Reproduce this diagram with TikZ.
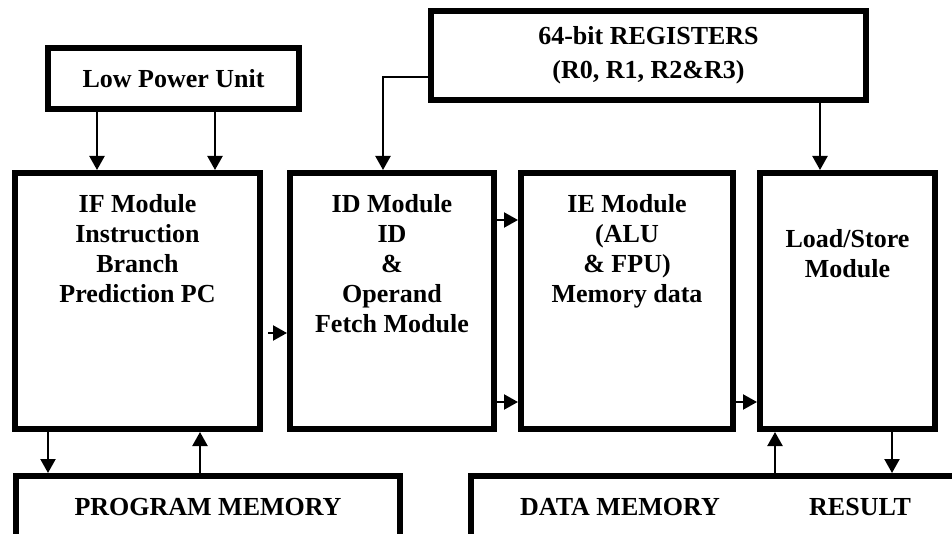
\documentclass[tikz,border=0pt]{standalone}
\usepackage{fontspec}
\setmainfont{Liberation Serif}
\usetikzlibrary{arrows.meta,positioning}
\tikzset{
  blk/.style={draw,line width=6pt,inner sep=0pt,align=center,
    font=\bfseries\fontsize{26}{30}\selectfont},
  txt/.style={inner sep=0pt,align=center,font=\bfseries\fontsize{26}{30}\selectfont},
  arr/.style={-{Triangle[length=14pt,width=15pt]},line width=2.2pt}
}
\begin{document}
\begin{tikzpicture}[x=1pt,y=-1pt]
  \useasboundingbox (0,0) rectangle (952,534);
  % top row
  \node[blk,minimum width=251pt,minimum height=61pt] (LPU) at (173.5,78.5) {Low Power Unit};
  \node[blk,minimum width=435pt,minimum height=89pt] (REG) at (648.5,55.5) {64-bit REGISTERS\\[4pt](R0, R1, R2\&R3)};
  % modules
  \node[blk,minimum width=245pt,minimum height=256pt] (IF) at (137.5,301) {};
  \node[blk,minimum width=204pt,minimum height=256pt] (ID) at (392,301) {};
  \node[blk,minimum width=212pt,minimum height=256pt] (IE) at (627,301) {};
  \node[blk,minimum width=175pt,minimum height=256pt] (LS) at (847.5,301) {};
  \node[txt,below=24pt of IF.north] {IF Module\\Instruction\\Branch\\Prediction PC};
  \node[txt,below=24pt of ID.north] {ID Module\\ID\\\&\\Operand\\Fetch Module};
  \node[txt,below=24pt of IE.north] {IE Module\\(ALU\\\& FPU)\\Memory data};
  \node[txt,below=59pt of LS.north] {Load/Store\\Module};
  % memories
  \node[blk,minimum width=384pt,minimum height=62pt] (PM) at (208,507) {PROGRAM MEMORY};
  \node[blk,minimum width=491pt,minimum height=62pt] (DM) at (716.5,507) {};
  \node[txt] at (620,507) {DATA MEMORY};
  \node[txt] at (860,507) {RESULT};
  % arrows
  \coordinate (c1) at (97,0);
  \coordinate (c2) at (215,0);
  \coordinate (c3) at (383,0);
  \coordinate (c4) at (820,0);
  \coordinate (c5) at (48,0);
  \coordinate (c6) at (200,0);
  \coordinate (c7) at (775,0);
  \coordinate (c8) at (892,0);
  \coordinate (r1) at (0,77);
  \coordinate (r2) at (0,220);
  \coordinate (r3) at (0,402);
  \coordinate (ifout) at (268,333);
  \draw[arr] (LPU.south -| c1) -- (IF.north -| c1);
  \draw[arr] (LPU.south -| c2) -- (IF.north -| c2);
  \draw[arr] (REG.west |- r1) -- (c3 |- r1) -- (ID.north -| c3);
  \draw[arr] (REG.south -| c4) -- (LS.north -| c4);
  \draw[arr] (ifout) -- (ID.west |- ifout);
  \draw[arr] (ID.east |- r2) -- (IE.west |- r2);
  \draw[arr] (ID.east |- r3) -- (IE.west |- r3);
  \draw[arr] (IE.east |- r3) -- (LS.west |- r3);
  \draw[arr] (IF.south -| c5) -- (PM.north -| c5);
  \draw[arr] (PM.north -| c6) -- (IF.south -| c6);
  \draw[arr] (DM.north -| c7) -- (LS.south -| c7);
  \draw[arr] (LS.south -| c8) -- (DM.north -| c8);
\end{tikzpicture}
\end{document}
